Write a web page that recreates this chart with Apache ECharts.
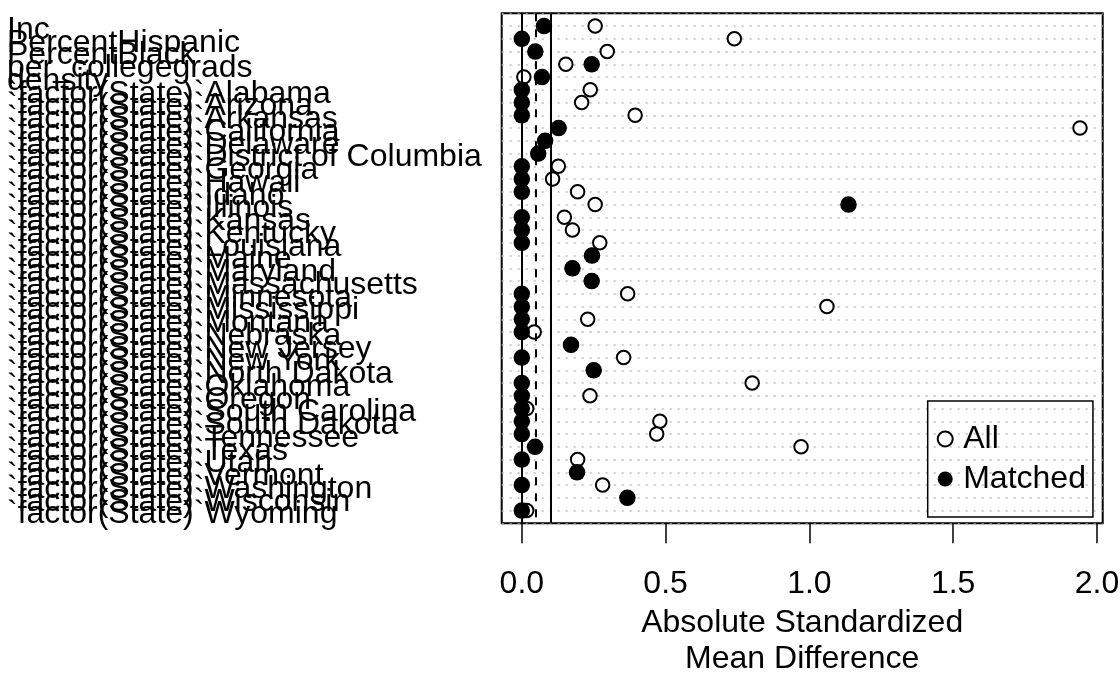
<!DOCTYPE html>
<html>
<head>
<meta charset="utf-8">
<script src="https://cdn.jsdelivr.net/npm/echarts@6/dist/echarts.min.js"></script>
<style>
  html, body { margin: 0; padding: 0; background: #fff; }
  #chart { width: 1120px; height: 673px; }
</style>
</head>
<body>
<div id="chart"></div>
<script>
// covariate names, top to bottom
const variables = [
    'Inc', 'PercentHispanic', 'PercentBlack', 'per_collegegrads', 'density',
    '`factor(State)`Alabama', '`factor(State)`Arizona', '`factor(State)`Arkansas',
    '`factor(State)`California', '`factor(State)`Delaware', '`factor(State)`District of Columbia',
    '`factor(State)`Georgia', '`factor(State)`Hawaii', '`factor(State)`Idaho',
    '`factor(State)`Illinois', '`factor(State)`Kansas', '`factor(State)`Kentucky',
    '`factor(State)`Louisiana', '`factor(State)`Maine', '`factor(State)`Maryland',
    '`factor(State)`Massachusetts', '`factor(State)`Minnesota', '`factor(State)`Mississippi',
    '`factor(State)`Montana', '`factor(State)`Nebraska', '`factor(State)`New Jersey',
    '`factor(State)`New York', '`factor(State)`North Dakota', '`factor(State)`Oklahoma',
    '`factor(State)`Oregon', '`factor(State)`South Carolina', '`factor(State)`South Dakota',
    '`factor(State)`Tennessee', '`factor(State)`Texas', '`factor(State)`Utah',
    '`factor(State)`Vermont', '`factor(State)`Washington', '`factor(State)`Wisconsin',
    '`factor(State)`Wyoming'
];
// absolute standardized mean differences
const allValues = [
    0.255, 0.739, 0.297, 0.153, 0.007,
    0.238, 0.208, 0.394, 1.941, 0.081, 0.057,
    0.127, 0.107, 0.194, 0.255, 0.148, 0.176,
    0.271, 0.244, 0.176, 0.243, 0.368, 1.061,
    0.229, 0.043, 0.171, 0.354, 0.250, 0.801,
    0.237, 0.017, 0.480, 0.469, 0.971, 0.194,
    0.192, 0.281, 0.367, 0.017
];
const matchedValues = [
    0.077, 0.000, 0.047, 0.243, 0.070,
    0.000, 0.000, 0.000, 0.128, 0.081, 0.057,
    0.000, 0.000, 0.000, 1.136, 0.000, 0.000,
    0.000, 0.244, 0.176, 0.243, 0.000, 0.000,
    0.000, 0.000, 0.171, 0.000, 0.250, 0.000,
    0.000, 0.000, 0.000, 0.000, 0.046, 0.000,
    0.192, 0.000, 0.367, 0.000
];
const xTicks = [0, 0.5, 1, 1.5, 2];
const refLines = [0, 0.05, 0.1];

const font = "'Liberation Sans', Arial, sans-serif";
let chart = echarts.init(document.getElementById('chart'));

// rows are numbered 1..n from the top
let allData = allValues.map((v, i) => [v, i + 1]);
let matchedData = matchedValues.map((v, i) => [v, i + 1]);

let option = {
    animation: false,
    textStyle: { fontFamily: font, color: '#000' },
    grid: {
        left: 501.7, top: 13.3, right: 17.3, bottom: 149.7,
        containLabel: false,
        outerBoundsMode: 'none',
        show: true, borderColor: '#000', borderWidth: 2, backgroundColor: 'transparent'
    },
    xAxis: {
        type: 'value',
        position: 'bottom',
        min: -0.07,
        max: 2.02,
        axisLine: { show: false, onZero: false },
        splitLine: { show: false },
        axisTick: {
            show: true, customValues: xTicks, length: 20, inside: false,
            lineStyle: { color: '#000', width: 1.5 }
        },
        axisLabel: {
            customValues: xTicks,
            formatter: v => v.toFixed(1),
            fontSize: 32, color: '#000', fontFamily: font,
            margin: 45
        },
        name: 'Absolute Standardized\nMean Difference',
        nameLocation: 'middle',
        nameGap: 80,
        nameTextStyle: { fontSize: 32, lineHeight: 36, color: '#000', fontFamily: font, verticalAlign: 'top' }
    },
    yAxis: {
        type: 'value',
        min: 0,
        max: variables.length + 1,
        interval: 1,
        inverse: true,
        axisLine: { show: false, onZero: false },
        axisTick: { show: false },
        splitLine: {
            show: true,
            lineStyle: { color: '#bdbdbd', width: 1.5, type: [2, 6] }
        },
        axisLabel: {
            formatter: v => (v >= 1 && v <= variables.length) ? variables[v - 1] : '',
            align: 'left',
            verticalAlign: 'top',
            lineHeight: 8,
            margin: 494.7,
            fontSize: 32, color: '#000', fontFamily: font
        }
    },
    legend: {
        orient: 'vertical',
        left: 927.7, top: 401,
        padding: [22, 7, 22, 9],
        itemGap: 8,
        itemWidth: 26, itemHeight: 15,
        borderColor: '#000', borderWidth: 1.5,
        textStyle: { fontSize: 32, lineHeight: 31, color: '#000', fontFamily: font },
        data: ['All', 'Matched']
    },
    series: [
        {
            // reference lines only
            type: 'scatter',
            data: [],
            z: 1,
            silent: true,
            markLine: {
                silent: true,
                symbol: ['none', 'none'],
                label: { show: false },
                data: refLines.map(v => ({
                    xAxis: v,
                    lineStyle: { color: '#000', width: 2, type: v === 0.05 ? [8, 8] : 'solid' }
                }))
            }
        },
        {
            name: 'All',
            type: 'scatter',
            z: 3,
            symbol: 'circle',
            symbolSize: 13.5,
            itemStyle: { color: '#fff', borderColor: '#000', borderWidth: 2, opacity: 1 },
            data: allData
        },
        {
            name: 'Matched',
            type: 'scatter',
            z: 4,
            symbol: 'circle',
            symbolSize: 16.5,
            itemStyle: { color: '#000', opacity: 1 },
            data: matchedData
        }
    ]
};
chart.setOption(option);
</script>
</body>
</html>
